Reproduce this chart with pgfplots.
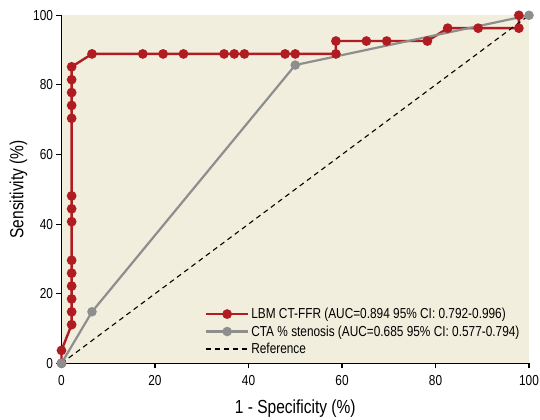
\documentclass[border=0pt]{standalone}
\usepackage{fontspec}
\setmainfont{Liberation Sans}[FakeStretch=0.82]
\usepackage{pgfplots}
\pgfplotsset{compat=1.18}

\definecolor{rocred}{RGB}{176,28,34}
\definecolor{rocgray}{RGB}{142,142,142}
\definecolor{panel}{RGB}{242,238,221}

\begin{document}
\begin{tikzpicture}
\useasboundingbox (-61.5bp,-56.7bp) rectangle (478.5bp,363.3bp);
\begin{axis}[
    scale only axis, width=467.5bp, height=348bp,
    xmin=0, xmax=100, ymin=0, ymax=100,
    xtick={0,20,...,100}, ytick={0,20,...,100},
    axis x line*=bottom, axis y line*=left,
    axis line style={line width=1.3bp, black},
    tick align=outside, major tick length=5bp,
    tick style={line width=1.1bp, black},
    axis background/.style={fill=panel},
    clip=false,
    /pgf/number format/assume math mode=true,
    ticklabel style={font=\fontsize{14.5}{16}\selectfont},
    xticklabel style={yshift=-4bp},
    xlabel={1 - Specificity (\%)}, ylabel={Sensitivity (\%)},
    label style={font=\fontsize{19}{22}\selectfont},
    xlabel style={yshift=-7bp}, ylabel style={yshift=-1bp},
    legend cell align=left,
    legend style={draw=none, fill=none, at={(0.3,0.012)}, anchor=south west,
        font=\fontsize{14.5}{16}\selectfont, row sep=1.5bp},
    legend image code/.code={\draw[mark repeat=2,mark phase=2,#1]
        plot coordinates {(0bp,0bp) (21bp,0bp) (42bp,0bp)};},
]
\addplot[rocred, line width=2.4bp, mark=*, mark size=3.6bp] coordinates {
(0,0) (0,3.7) (2.17,11.1) (2.17,14.8) (2.17,18.5) (2.17,22.2) (2.17,25.9)
(2.17,29.6) (2.17,40.7) (2.17,44.4) (2.17,48.1) (2.17,70.4) (2.17,74.1)
(2.17,77.8) (2.17,81.5) (2.17,85.2) (6.52,88.9) (17.39,88.9) (21.74,88.9)
(26.09,88.9) (34.78,88.9) (36.96,88.9) (39.13,88.9) (47.83,88.9) (50.0,88.9)
(58.7,88.9) (58.7,92.6) (65.22,92.6) (69.57,92.6) (78.26,92.6) (82.61,96.3)
(89.13,96.3) (97.83,96.3) (97.83,100)};
\addlegendentry{LBM CT-FFR (AUC=0.894 95\% CI: 0.792-0.996)}
\addplot[rocgray, line width=2.2bp, mark=*, mark size=3.6bp] coordinates {
(0,0) (6.52,14.8) (50.0,85.7) (100,100)};
\addlegendentry{CTA \% stenosis (AUC=0.685 95\% CI: 0.577-0.794)}
\addplot[black, dash pattern=on 5bp off 4bp, line width=1.1bp] coordinates {(0,0) (100,100)};
\addlegendentry{Reference}
\end{axis}
\end{tikzpicture}
\end{document}
